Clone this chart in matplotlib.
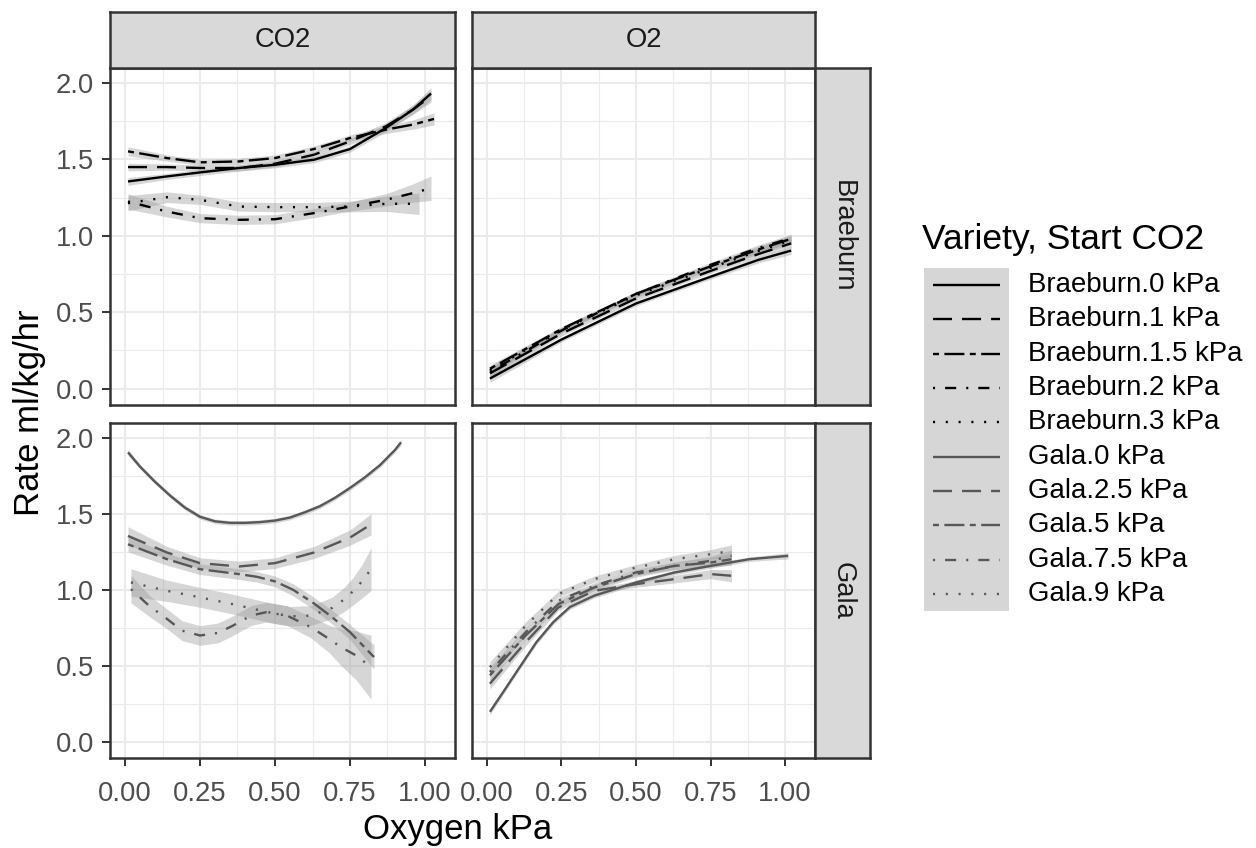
import numpy as np
import matplotlib
matplotlib.use("Agg")
import matplotlib.pyplot as plt
from matplotlib.patches import Rectangle

plt.rcParams['font.family'] = ['Liberation Sans', 'DejaVu Sans']
plt.rcParams['lines.scale_dashes'] = False

W, H = 1256, 848

# --- legend levels (Variety.Start CO2) ---
levels = ["Braeburn.0 kPa", "Braeburn.1 kPa", "Braeburn.1.5 kPa", "Braeburn.2 kPa",
          "Braeburn.3 kPa", "Gala.0 kPa", "Gala.2.5 kPa", "Gala.5 kPa",
          "Gala.7.5 kPa", "Gala.9 kPa"]
col_facets = ["CO2", "O2"]
row_facets = ["Braeburn", "Gala"]

# --- CO2 facet, Braeburn row (x = oxygen kPa, y = rate, se = ribbon half width) ---
b0_co2_x = [0.01, 0.14, 0.25, 0.38, 0.50, 0.63, 0.75, 0.87, 0.96, 1.02]
b0_co2_y = [1.355, 1.388, 1.414, 1.443, 1.464, 1.497, 1.567, 1.705, 1.825, 1.93]
b0_co2_se = [0.025, 0.02, 0.02, 0.02, 0.02, 0.02, 0.02, 0.025, 0.03, 0.04]
b1_co2_x = [0.01, 0.14, 0.25, 0.38, 0.50, 0.63, 0.75, 0.87, 0.96, 1.02]
b1_co2_y = [1.449, 1.449, 1.443, 1.443, 1.471, 1.530, 1.617, 1.716, 1.825, 1.913]
b1_co2_se = [0.025, 0.02, 0.02, 0.02, 0.02, 0.02, 0.02, 0.025, 0.03, 0.04]
b15_co2_x = [0.01, 0.14, 0.25, 0.38, 0.50, 0.63, 0.75, 0.87, 0.96, 1.03]
b15_co2_y = [1.552, 1.508, 1.48, 1.486, 1.508, 1.567, 1.639, 1.694, 1.727, 1.764]
b15_co2_se = [0.03, 0.02, 0.02, 0.02, 0.02, 0.02, 0.02, 0.025, 0.03, 0.04]
b2_co2_x = [0.01, 0.14, 0.25, 0.38, 0.50, 0.63, 0.75, 0.87, 0.96, 1.02]
b2_co2_y = [1.224, 1.158, 1.115, 1.104, 1.108, 1.148, 1.191, 1.235, 1.279, 1.311]
b2_co2_se = [0.05, 0.035, 0.03, 0.03, 0.03, 0.03, 0.03, 0.04, 0.06, 0.08]
b3_co2_x = [0.01, 0.14, 0.25, 0.38, 0.50, 0.63, 0.75, 0.87, 0.98]
b3_co2_y = [1.213, 1.252, 1.235, 1.191, 1.187, 1.187, 1.191, 1.209, 1.209]
b3_co2_se = [0.05, 0.035, 0.03, 0.03, 0.03, 0.03, 0.035, 0.05, 0.07]

# --- O2 facet, Braeburn row ---
b_o2_x = [0.01, 0.25, 0.50, 0.75, 0.91, 1.02]
b0_o2_y = [0.066, 0.321, 0.557, 0.732, 0.842, 0.903]
b1_o2_y = [0.10, 0.36, 0.59, 0.77, 0.88, 0.95]
b15_o2_y = [0.13, 0.39, 0.62, 0.80, 0.91, 0.98]
b2_o2_y = [0.11, 0.38, 0.62, 0.81, 0.92, 0.985]
b3_o2_y = [0.12, 0.385, 0.61, 0.79, 0.90, 0.97]
b_o2_se = [0.025, 0.015, 0.015, 0.015, 0.02, 0.025]

# --- CO2 facet, Gala row ---
g0_co2_x = [0.01, 0.05, 0.10, 0.15, 0.20, 0.25, 0.30, 0.35, 0.40, 0.45, 0.50, 0.55,
            0.60, 0.65, 0.70, 0.75, 0.80, 0.85, 0.90, 0.92]
g0_co2_y = [1.904, 1.81, 1.71, 1.62, 1.54, 1.48, 1.45, 1.44, 1.44, 1.445, 1.455, 1.475,
            1.51, 1.55, 1.605, 1.67, 1.74, 1.82, 1.92, 1.97]
g0_co2_se = [0.02] + [0.015] * 18 + [0.02]
g25_co2_x = [0.01, 0.14, 0.25, 0.38, 0.50, 0.63, 0.75, 0.82]
g25_co2_y = [1.354, 1.245, 1.175, 1.153, 1.175, 1.245, 1.343, 1.430]
g25_co2_se = [0.06, 0.04, 0.035, 0.035, 0.035, 0.04, 0.05, 0.07]
g5_co2_x = [0.01, 0.14, 0.25, 0.38, 0.44, 0.50, 0.56, 0.63, 0.69, 0.75, 0.83]
g5_co2_y = [1.299, 1.201, 1.135, 1.103, 1.085, 1.055, 1.0, 0.91, 0.82, 0.721, 0.557]
g5_co2_se = [0.05, 0.04, 0.035, 0.035, 0.035, 0.035, 0.04, 0.04, 0.045, 0.05, 0.08]
g75_co2_x = [0.02, 0.08, 0.14, 0.19, 0.25, 0.31, 0.36, 0.42, 0.47, 0.54, 0.62, 0.68, 0.72, 0.77, 0.82]
g75_co2_y = [1.004, 0.895, 0.808, 0.731, 0.699, 0.716, 0.764, 0.830, 0.852, 0.830, 0.753,
             0.677, 0.622, 0.568, 0.491]
g75_co2_se = [0.09, 0.07, 0.065, 0.065, 0.065, 0.065, 0.065, 0.065, 0.065, 0.065, 0.07,
              0.09, 0.12, 0.16, 0.21]
g9_co2_x = [0.02, 0.14, 0.25, 0.36, 0.47, 0.55, 0.62, 0.69, 0.73, 0.76, 0.79, 0.82]
g9_co2_y = [1.048, 0.993, 0.950, 0.905, 0.855, 0.825, 0.83, 0.88, 0.935, 0.99, 1.055, 1.135]
g9_co2_se = [0.09, 0.07, 0.065, 0.065, 0.065, 0.065, 0.065, 0.07, 0.08, 0.09, 0.11, 0.14]

# --- O2 facet, Gala row ---
g0_o2_x = [0.01, 0.055, 0.11, 0.166, 0.222, 0.278, 0.36, 0.50, 0.63, 0.75, 0.88, 1.01]
g0_o2_y = [0.197, 0.328, 0.491, 0.655, 0.786, 0.886, 0.961, 1.048, 1.114, 1.157, 1.201, 1.223]
g0_o2_se = [0.02, 0.015, 0.015, 0.015, 0.015, 0.015, 0.015, 0.015, 0.015, 0.015, 0.015, 0.02]
g_o2_x = [0.01, 0.13, 0.24, 0.36, 0.50, 0.63, 0.75, 0.82]
g25_o2_y = [0.382, 0.655, 0.884, 0.993, 1.037, 1.07, 1.103, 1.092]
g5_o2_y = [0.437, 0.699, 0.906, 1.015, 1.103, 1.157, 1.179, 1.201]
g75_o2_y = [0.459, 0.72, 0.928, 1.026, 1.114, 1.157, 1.19, 1.223]
g9_o2_y = [0.491, 0.764, 0.972, 1.07, 1.146, 1.201, 1.234, 1.255]
g_o2_se = [0.035, 0.025, 0.02, 0.02, 0.02, 0.025, 0.03, 0.04]

# --- styles ---
BRAE, GALA = '#000000', '#575757'
patterns = ['-', (0, (13.7, 7.2)), (0, (4.3, 3.9, 14.4, 3.9)),
            (0, (1.5, 7.2, 8.0, 7.2)), (0, (1.5, 7.7))]
colors = [BRAE] * 5 + [GALA] * 5
styles = patterns + patterns
LW = 1.7
RIBBON = dict(color='#999999', alpha=0.4, lw=0)

panels = {
    (0, 0): [(b0_co2_x, b0_co2_y, b0_co2_se), (b1_co2_x, b1_co2_y, b1_co2_se),
             (b15_co2_x, b15_co2_y, b15_co2_se), (b2_co2_x, b2_co2_y, b2_co2_se),
             (b3_co2_x, b3_co2_y, b3_co2_se)],
    (0, 1): [(b_o2_x, y, b_o2_se) for y in (b0_o2_y, b1_o2_y, b15_o2_y, b2_o2_y, b3_o2_y)],
    (1, 0): [(g0_co2_x, g0_co2_y, g0_co2_se), (g25_co2_x, g25_co2_y, g25_co2_se),
             (g5_co2_x, g5_co2_y, g5_co2_se), (g75_co2_x, g75_co2_y, g75_co2_se),
             (g9_co2_x, g9_co2_y, g9_co2_se)],
    (1, 1): [(g0_o2_x, g0_o2_y, g0_o2_se)] +
            [(g_o2_x, y, g_o2_se) for y in (g25_o2_y, g5_o2_y, g75_o2_y, g9_o2_y)],
}

fig = plt.figure(figsize=(W / 100, H / 100), dpi=100)


def box(l, t, r, b):
    return [l / W, 1 - b / H, (r - l) / W, (b - t) / H]


col_px = [(110, 455), (472, 815)]
row_px = [(68, 405), (423, 758)]
BORDER = '#333333'

for r, (top, bot) in enumerate(row_px):
    for c, (left, right) in enumerate(col_px):
        ax = fig.add_axes(box(left, top, right, bot))
        ax.set_xlim(-0.05, 1.10)
        ax.set_ylim(-0.107, 2.097)
        ax.set_xticks([0, 0.25, 0.5, 0.75, 1.0])
        ax.set_xticks([0.125, 0.375, 0.625, 0.875], minor=True)
        ax.set_yticks([0, 0.5, 1.0, 1.5, 2.0])
        ax.set_yticks([0.25, 0.75, 1.25, 1.75], minor=True)
        ax.grid(True, which='major', color='#EBEBEB', lw=1.5)
        ax.grid(True, which='minor', color='#EBEBEB', lw=0.8)
        ax.set_axisbelow(True)
        for s in ax.spines.values():
            s.set_color(BORDER)
            s.set_linewidth(1.8)
        ax.tick_params(which='minor', length=0)
        ax.tick_params(which='major', length=5.5, width=1.4, color=BORDER,
                       labelsize=19.7, labelcolor='#4D4D4D')
        ax.tick_params(axis='x', pad=11, bottom=(r == 1), labelbottom=(r == 1))
        ax.tick_params(axis='y', pad=6, left=(c == 0), labelleft=(c == 0))
        ax.xaxis.set_major_formatter(plt.FormatStrFormatter('%.2f'))
        ax.yaxis.set_major_formatter(plt.FormatStrFormatter('%.1f'))

        base = r * 5
        for k, (xs, ys, se) in enumerate(panels[(r, c)]):
            xs, ys, se = np.array(xs), np.array(ys), np.array(se)
            ax.fill_between(xs, ys - se, ys + se, zorder=2, **RIBBON)
            ax.plot(xs, ys, color=colors[base + k], ls=styles[base + k], lw=LW,
                    solid_capstyle='butt', dash_capstyle='butt',
                    solid_joinstyle='round', zorder=3)

        # right-hand strip
        if c == 1:
            sax = fig.add_axes(box(815, top, 870, bot))
            sax.set_facecolor('#D9D9D9')
            sax.set_xticks([]); sax.set_yticks([])
            for s in sax.spines.values():
                s.set_color(BORDER); s.set_linewidth(1.8)
            sax.text(0.5, 0.5, row_facets[r], rotation=-90, ha='center', va='center',
                     fontsize=19.7, color='#1A1A1A', transform=sax.transAxes)

# top strips
for c, (left, right) in enumerate(col_px):
    sax = fig.add_axes(box(left, 12, right, 68))
    sax.set_facecolor('#D9D9D9')
    sax.set_xticks([]); sax.set_yticks([])
    for s in sax.spines.values():
        s.set_color(BORDER); s.set_linewidth(1.8)
    sax.text(0.5, 0.5, col_facets[c], ha='center', va='center', fontsize=19.7,
             color='#1A1A1A', transform=sax.transAxes)

fig.text(458 / W, 1 - 829 / H, 'Oxygen kPa', ha='center', va='center', fontsize=25)
fig.text(30 / W, 1 - 413 / H, 'Rate ml/kg/hr', ha='center', va='center',
         rotation=90, fontsize=25)

# legend, drawn in pixel space
lax = fig.add_axes([0, 0, 1, 1], facecolor='none')
lax.set_xlim(0, W)
lax.set_ylim(H, 0)
lax.axis('off')
lax.text(922, 239, 'Variety, Start CO2', ha='left', va='center', fontsize=25.5)
row_h = 34.3
y0 = 268
for i, lab in enumerate(levels):
    yc = y0 + row_h * (i + 0.5)
    lax.add_patch(Rectangle((924, y0 + row_h * i), 85, row_h, **RIBBON))
    lax.plot([933, 1000], [yc, yc], color=colors[i], ls=styles[i], lw=LW,
             solid_capstyle='butt', dash_capstyle='butt')
    lax.text(1028, yc, lab, ha='left', va='center', fontsize=19.9)

fig.savefig('out.png', dpi=100)
